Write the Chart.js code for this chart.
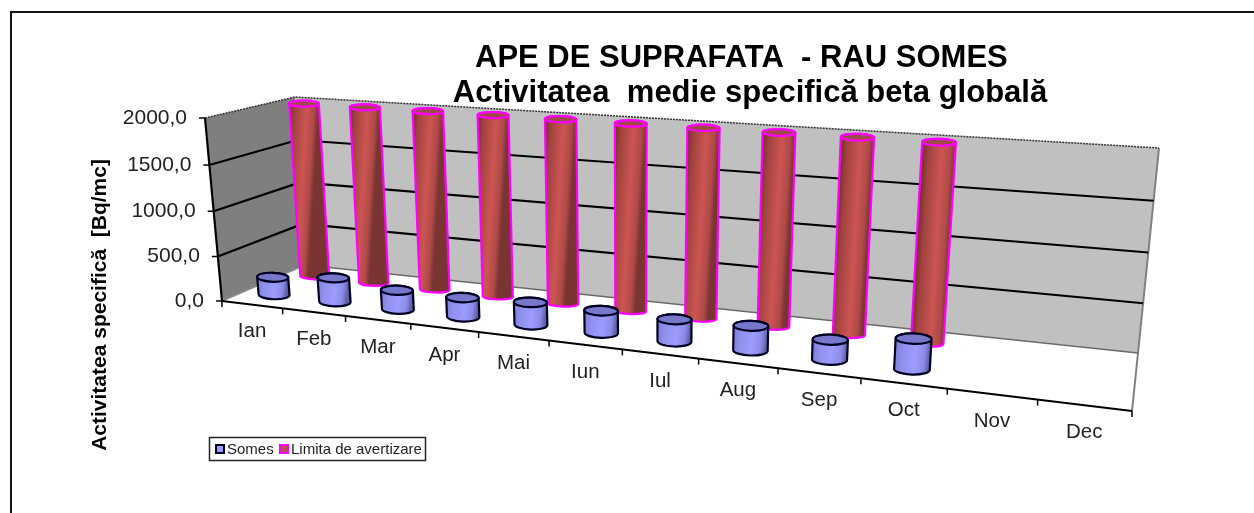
<!DOCTYPE html>
<html><head><meta charset="utf-8">
<style>html,body{margin:0;padding:0;background:#fff}canvas{display:block}</style>
<script src="https://cdn.jsdelivr.net/npm/chart.js@4/dist/chart.umd.min.js"></script>
</head><body><canvas id="c" width="1254" height="513"></canvas>
<script>
const categories = ['Ian','Feb','Mar','Apr','Mai','Iun','Iul','Aug','Sep','Oct','Nov','Dec'];
const somes = [200,270,210,210,240,235,230,250,200,300,null,null];
const limita = [2000,2000,2000,2000,2000,2000,2000,2000,2000,2000,null,null];
const titleLines = ['APE DE SUPRAFATA  - RAU SOMES  ','Activitatea  medie specifică beta globală'];
const yAxisTitle = 'Activitatea specifică  [Bq/mc]';

function quadMap(bl, br, tr, tl) {
  const dx1 = br[0]-tr[0], dx2 = tl[0]-tr[0], sx = bl[0]-br[0]+tr[0]-tl[0];
  const dy1 = br[1]-tr[1], dy2 = tl[1]-tr[1], sy = bl[1]-br[1]+tr[1]-tl[1];
  const den = dx1*dy2-dx2*dy1;
  const g = (sx*dy2-dx2*sy)/den, h = (dx1*sy-sx*dy1)/den;
  const a = br[0]-bl[0]+g*br[0], b = tl[0]-bl[0]+h*tl[0], c = bl[0];
  const d = br[1]-bl[1]+g*br[1], e = tl[1]-bl[1]+h*tl[1], f = bl[1];
  return (s,t)=>{const w=g*s+h*t+1; return [(a*s+b*t+c)/w,(d*s+e*t+f)/w];};
}
const frontPlane = quadMap([222,301],[1132,411],[1155,181],[205,118]);
const backPlane  = quadMap([305,265],[1138,353],[1159,148],[295,97]);
function project(chart, px, py, depth) {
  const a = chart.chartArea;
  const s = (px-a.left)/(a.right-a.left), t = (a.bottom-py)/(a.bottom-a.top);
  const F = frontPlane(s,t), B = backPlane(s,t);
  return [F[0]+(B[0]-F[0])*depth, F[1]+(B[1]-F[1])*depth];
}
const DEPTH = [0.27, 0.77];
const LOOK = [
  {edge:'#000022', cap:'#7777cc', minor:0.29, stops:[[0,'#7c7cd0'],[0.25,'#9090ee'],[0.6,'#9c9cff'],[0.85,'#8a8ae6'],[1,'#5e5ea8']], lw:2.2},
  {edge:'#ff00ff', cap:'#a04a48', minor:0.2, stops:[[0,'#6e2c2a'],[0.2,'#a0423f'],[0.6,'#cc5552'],[0.85,'#b04a48'],[1,'#7a3432']], lw:2.2}
];

class Cylinder3D extends Chart.BarController {
  draw() {
    const chart = this.chart, ctx = chart.ctx, meta = this._cachedMeta, area = chart.chartArea;
    const look = LOOK[this.index], depth = DEPTH[this.index], values = this.getDataset().data;
    ctx.save();
    meta.data.forEach((el,i) => {
      if (values[i] === null || el.skip || !isFinite(el.y)) return;
      const along = (el.x-area.left)/(area.right-area.left);
      const hw = el.width/2*(1-0.24*along);
      const bl = project(chart, el.x-hw, el.base, depth), br = project(chart, el.x+hw, el.base, depth);
      const tl = project(chart, el.x-hw, el.y, depth), tr = project(chart, el.x+hw, el.y, depth);
      const arc = (l,r,from,to,ccw) => {
        const cx=(l[0]+r[0])/2, cy=(l[1]+r[1])/2, rx=Math.hypot(r[0]-l[0],r[1]-l[1])/2;
        ctx.ellipse(cx,cy,rx,rx*look.minor,Math.atan2(r[1]-l[1],r[0]-l[0])*0.25,from,to,ccw);
      };
      const g = ctx.createLinearGradient(tl[0],tl[1],tr[0],tr[1]);
      look.stops.forEach(s=>g.addColorStop(s[0],s[1]));
      ctx.beginPath();
      arc(bl,br,Math.PI,0,true);
      arc(tl,tr,0,Math.PI,true);
      ctx.closePath();
      ctx.fillStyle=g; ctx.fill();
      ctx.strokeStyle=look.edge; ctx.lineWidth=look.lw; ctx.stroke();
      ctx.beginPath(); arc(tl,tr,0,Math.PI*2,false); ctx.closePath();
      ctx.fillStyle=look.cap; ctx.fill(); ctx.stroke();
    });
    ctx.restore();
  }
}
Cylinder3D.id='cylinder3d';
Cylinder3D.defaults=Chart.BarController.defaults;
Cylinder3D.overrides=Chart.BarController.overrides;
Chart.register(Cylinder3D);

const box3d = {
  id:'box3d',
  beforeDraw(chart){
    const ctx=chart.ctx, X=chart.scales.x, Y=chart.scales.y;
    ctx.save();
    ctx.fillStyle='#fff'; ctx.fillRect(0,0,chart.width,chart.height);
    ctx.strokeStyle='#111'; ctx.lineWidth=2;
    ctx.beginPath(); ctx.moveTo(11,513); ctx.lineTo(11,12); ctx.lineTo(1254,12); ctx.stroke();
    ctx.restore();
    const a=chart.chartArea;
    X._computeLabelArea=()=>undefined; Y._computeLabelArea=()=>undefined;
    Y.getLabelItems(a).forEach((it,i)=>{
      const p=project(chart,a.left,Y.getPixelForTick(i),0);
      it.textOffset=0; it.options.textAlign='right'; it.options.textBaseline='middle';
      it.options.translation=[p[0]-18,p[1]];
    });
    X.getLabelItems(a).forEach((it,i)=>{
      const p=project(chart,X.getPixelForTick(i),a.bottom,0);
      it.textOffset=0; it.options.textAlign='center'; it.options.textBaseline='middle'; it.options.rotation=0;
      it.options.translation=[p[0],p[1]+27];
    });
    chart.titleBlock.left=450; chart.titleBlock.right=1050;
  },
  beforeDatasetsDraw(chart){
    const ctx=chart.ctx, a=chart.chartArea, X=chart.scales.x, Y=chart.scales.y;
    const P=(x,y,d)=>project(chart,x,y,d);
    const poly=(pts,fill,stroke,lw,dash)=>{
      ctx.beginPath(); pts.forEach((p,i)=>i?ctx.lineTo(p[0],p[1]):ctx.moveTo(p[0],p[1]));
      if(fill){ctx.closePath();ctx.fillStyle=fill;ctx.fill();}
      if(stroke){ctx.strokeStyle=stroke;ctx.lineWidth=lw||1;ctx.setLineDash(dash||[]);ctx.stroke();ctx.setLineDash([]);}
    };
    ctx.save();
    const l=a.left,r=a.right,b=a.bottom,t=a.top;
    poly([P(l,b,0),P(r,b,0),P(r,b,1),P(l,b,1)],'#ffffff');
    poly([P(l,t,1),P(r,t,1),P(r,b,1),P(l,b,1)],'#c0c0c0');
    poly([P(l,t,0),P(l,t,1),P(l,b,1),P(l,b,0)],'#7f7f7f');
    poly([P(r,b,0),P(r,b,1),P(r,t,1)],null,'#808080',2);
    poly([P(l,b,1),P(r,b,1)],null,'#6a6a6a',1.5);
    poly([P(l,b,0),P(l,b,1)],null,'#8a8a8a',1.5);
    poly([P(l,t,0),P(l,t,1),P(r,t,1)],null,'#333333',1.5,[2,1]);
    Y.ticks.forEach(tk=>{
      const y=Y.getPixelForValue(tk.value);
      if(tk.value>0 && tk.value<2000) poly([P(l,y,0),P(l,y,1),P(r,y,1)],null,'#000',2.2);
    });
    poly([P(l,t,0),P(l,b,0)],null,'#000',2.2);
    poly([P(l,b,0),P(r,b,0)],null,'#000',2.2);
    Y.ticks.forEach(tk=>{
      const p=P(l,Y.getPixelForValue(tk.value),0);
      poly([p,[p[0]-6,p[1]]],null,'#000',1.5);
    });
    categories.forEach((c,i)=>{
      const p=P(X.getPixelForValue(i+0.5),b,0);
      poly([p,[p[0],p[1]+6]],null,'#000',1.5);
    });
    poly([P(l,b,0),[P(l,b,0)[0],P(l,b,0)[1]+6]],null,'#000',1.5);
    ctx.restore();
  },
  afterDraw(chart){
    const ctx=chart.ctx;
    ctx.save();
    ctx.strokeStyle='#222'; ctx.lineWidth=1.5;
    ctx.strokeRect(209.5,437.5,216,23);
    ctx.font='15px "Liberation Sans", Arial, sans-serif';
    ctx.textBaseline='middle'; ctx.textAlign='left';
    const ds=chart.data.datasets;
    [[216,227],[280,291]].forEach((pos,i)=>{
      ctx.fillStyle=ds[i].backgroundColor; ctx.strokeStyle=ds[i].borderColor; ctx.lineWidth=2;
      ctx.fillRect(pos[0],445,8,8); ctx.strokeRect(pos[0],445,8,8);
      ctx.fillStyle='#222'; ctx.fillText(ds[i].label,pos[1],449.5);
    });
    ctx.restore();
  }
};

new Chart(document.getElementById('c'),{
  type:'cylinder3d',
  data:{labels:categories,datasets:[
    {label:'Somes',data:somes,backgroundColor:'#9999ff',borderColor:'#000022',clip:false,grouped:false,barPercentage:0.52,categoryPercentage:1},
    {label:'Limita de avertizare',data:limita,backgroundColor:'#c0504d',borderColor:'#ff00ff',clip:false,grouped:false,barPercentage:0.5,categoryPercentage:1}
  ]},
  plugins:[box3d],
  options:{
    responsive:false,animation:false,devicePixelRatio:1,events:[],
    layout:{padding:{left:88,right:10,top:40,bottom:63}},
    plugins:{
      legend:{display:false},tooltip:{enabled:false},
      title:{display:true,text:titleLines,color:'#000',align:'center',fullSize:true,
        font:{family:'"Liberation Sans", Arial, sans-serif',size:31,weight:'bold',lineHeight:1.16},padding:{top:0,bottom:48}}
    },
    scales:{
      x:{type:'category',offset:true,grid:{display:false},border:{display:false},
        afterFit(s){s.height=0;},
        ticks:{autoSkip:false,maxRotation:0,color:'#222',font:{family:'"Liberation Sans", Arial, sans-serif',size:20.5}}},
      y:{min:0,max:2000,grid:{display:false},border:{display:false},
        afterFit(s){s.width=40;},
        title:{display:true,text:yAxisTitle,color:'#000',padding:0,font:{family:'"Liberation Sans", Arial, sans-serif',size:21,weight:'bold'}},
        ticks:{stepSize:500,color:'#222',font:{family:'"Liberation Sans", Arial, sans-serif',size:21},
          callback:v=>v.toFixed(1).replace('.',',')}}
    }
  }
});
</script></body></html>
